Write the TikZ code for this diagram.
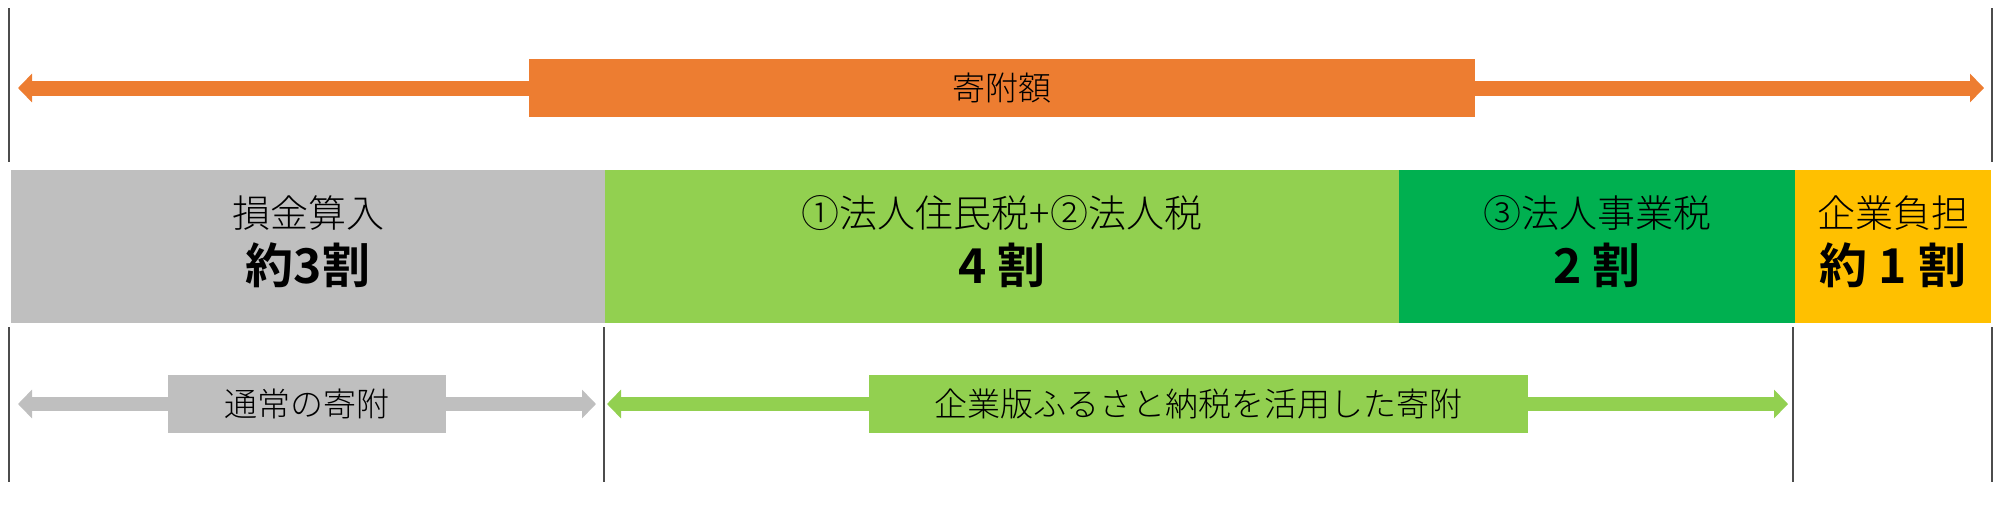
\documentclass[tikz,border=0pt]{standalone}
\usepackage{fontspec}
\setmainfont{Noto Sans CJK JP Light}[BoldFont={Noto Sans CJK JP Bold}]
\usetikzlibrary{arrows.meta,positioning}
\definecolor{kifuOrange}{HTML}{ED7D31}
\definecolor{sonGray}{HTML}{BFBFBF}
\definecolor{zeiGreen}{HTML}{92D050}
\definecolor{jigyoGreen}{HTML}{00B050}
\definecolor{futanYellow}{HTML}{FFC000}
\newcommand\wari[1]{{\fontsize{24pt}{28pt}\selectfont\bfseries #1}}

\begin{document}
\begin{tikzpicture}
[x=0.5pt,y=-0.5pt,>={Triangle[width=14pt,length=7pt]},
bar/.style = {minimum height=76.5pt, inner sep=0pt, align=center, text depth=7pt, font=\fontsize{19pt}{28pt}\selectfont},
band/.style = {minimum height=29pt, inner sep=0pt, font=\fontsize{16.5pt}{20pt}\selectfont},
tick/.style = {black!70, line width=0.6pt},]
\useasboundingbox (0,0) rectangle (2000,509);
% guide lines
\coordinate (L1) at (9,8);
\coordinate (L2) at (9,162);
\coordinate (R1) at (1992,8);
\coordinate (R2) at (1992,162);
\coordinate (a1) at (9,327);
\coordinate (a2) at (9,482);
\coordinate (b1) at (604,327);
\coordinate (b2) at (604,482);
\coordinate (c1) at (1793,327);
\coordinate (c2) at (1793,482);
\coordinate (d1) at (1992,327);
\coordinate (d2) at (1992,482);
\draw [tick] (L1) -- (L2);
\draw [tick] (R1) -- (R2);
\draw [tick] (a1) -- (a2);
\draw [tick] (b1) -- (b2);
\draw [tick] (c1) -- (c2);
\draw [tick] (d1) -- (d2);
% arrow ends
\coordinate (gL) at (18,88);
\coordinate (gR) at (1984,88);
\coordinate (tL) at (18,404);
\coordinate (tR) at (596,404);
\coordinate (kL) at (607,404);
\coordinate (kR) at (1788,404);
\draw [<->, kifuOrange, line width=7.5pt] (gL) -- (gR);
\draw [<->, sonGray, line width=7pt] (tL) -- (tR);
\draw [<->, zeiGreen, line width=7pt] (kL) -- (kR);
% labels on the arrows
\node (gaku) at (1002,87.5)[band,fill=kifuOrange,minimum width=473pt] {寄附額};
\node (tsujo) at (307,404)[band,fill=sonGray,minimum width=139pt] {通常の寄附};
\node (kigyo) at (1198.5,404)[band,fill=zeiGreen,minimum width=329.5pt] {企業版ふるさと納税を活用した寄附};
% the bar
\node (son) at (308,246.5)[bar,fill=sonGray,minimum width=297pt] {損金算入\\\wari{約3割}};
\node (hojin) at (1002,246.5)[bar,fill=zeiGreen,minimum width=397pt] {①法人住民税+②法人税\\\wari{4 割}};
\node (jigyo) at (1597,246.5)[bar,fill=jigyoGreen,minimum width=198pt] {③法人事業税\\\wari{2 割}};
\node (futan) at (1893,246.5)[bar,fill=futanYellow,minimum width=98pt] {企業負担\\\wari{約 1 割}};
\end{tikzpicture}
\end{document}
